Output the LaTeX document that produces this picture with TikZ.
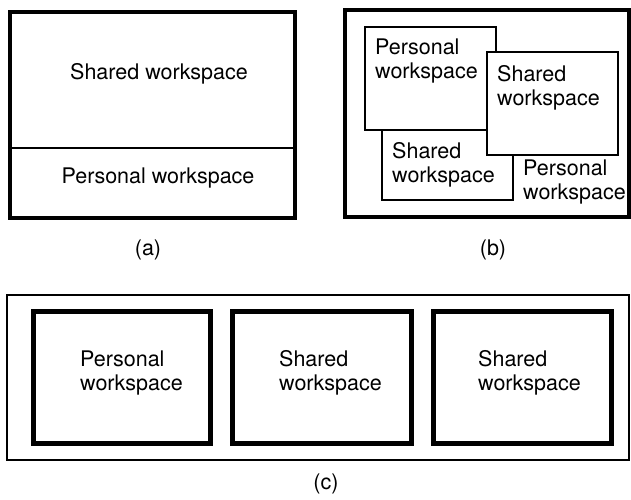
\documentclass[tikz,border=0pt]{standalone}
\usepackage{fontspec}
\setmainfont{TeX Gyre Heros}
\begin{document}
\begin{tikzpicture}[x=1bp,y=-1bp,
  lbl/.style={inner sep=0pt,font=\fontsize{21.5bp}{24bp}\selectfont},
  txt/.style={lbl,anchor=west,align=left},
  frame/.style={draw=black,line width=4bp},
  win/.style={draw=black,fill=white,line width=2.5bp},
  cwin/.style={draw=black,fill=white,line width=5bp},
  thin/.style={draw=black,line width=2bp}]
\useasboundingbox (0,0) rectangle (631,500);
% (a)
\draw[frame] (10,12) rectangle (295,218);
\draw[thin] (10,148) -- (295,148);
\node[lbl] (as) at (159,74) {Shared workspace};
\node[lbl] (ap) at (158,178) {Personal workspace};
\node[lbl] (la) at (148,250) {(a)};
% (b)
\draw[frame] (345,10) rectangle (629,217);
\draw[win] (382,130) rectangle (513,200);
\node[txt] (b3) at (392,165) {Shared\\workspace};
\draw[win] (365,27) rectangle (496,130);
\node[txt] (b1) at (375,61) {Personal\\workspace};
\draw[win] (487,52) rectangle (618,155);
\node[txt] (b2) at (497,88) {Shared\\workspace};
\node[txt] (b4) at (523,182) {Personal\\workspace};
\node[lbl] (lb) at (493,250) {(b)};
% (c)
\draw[thin] (7,295) rectangle (629,460);
\draw[cwin] (33,311) rectangle (210,443);
\draw[cwin] (232,311) rectangle (411,443);
\draw[cwin] (433,311) rectangle (611,443);
\node[txt] (c1) at (80,373) {Personal\\workspace};
\node[txt] (c2) at (279,373) {Shared\\workspace};
\node[txt] (c3) at (478,373) {Shared\\workspace};
\node[lbl] (lc) at (326,484) {(c)};
\end{tikzpicture}
\end{document}
